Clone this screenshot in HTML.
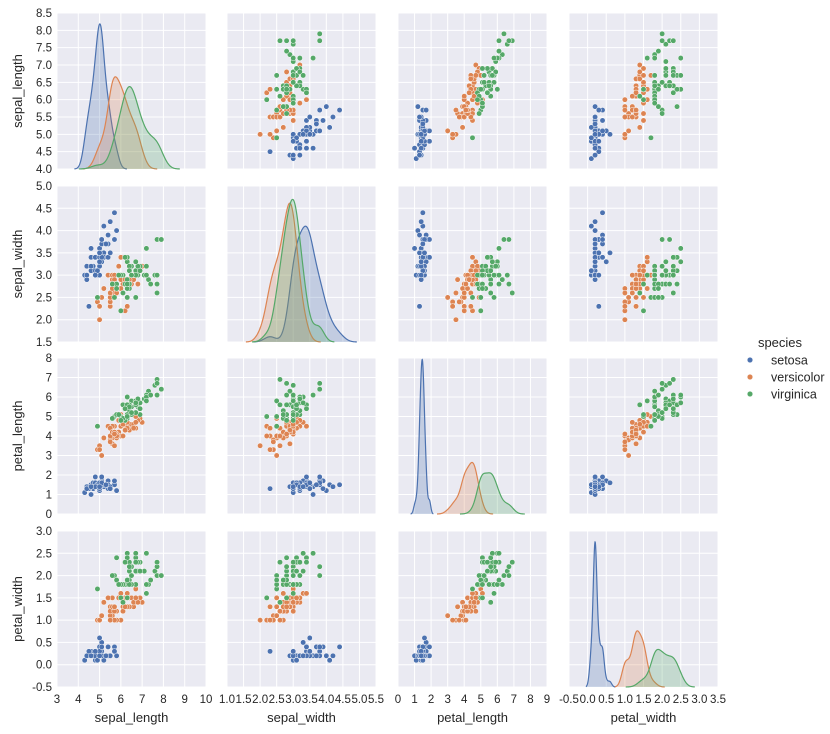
<!DOCTYPE html>
<html><head><meta charset="utf-8"><style>
html,body{margin:0;padding:0;background:#fff;}
svg{display:block;font-family:"Liberation Sans",Arial,sans-serif;}
</style></head><body>
<svg id="chart" width="830" height="734" viewBox="0 0 830 734" xmlns="http://www.w3.org/2000/svg"></svg>
<script>
const variables = ["sepal_length","sepal_width","petal_length","petal_width"];
const speciesNames = ["setosa","versicolor","virginica"];
const sepalLength = [5.1,4.9,4.7,4.6,5.0,5.4,4.6,5.0,4.4,4.9,5.4,4.8,4.8,4.3,5.8,5.7,5.4,5.1,5.7,5.1,5.4,5.1,4.6,5.1,4.8,5.0,5.0,5.2,5.2,4.7,4.8,5.4,5.2,5.5,4.9,5.0,5.5,4.9,4.4,5.1,5.0,4.5,4.4,5.0,5.1,4.8,5.1,4.6,5.3,5.0,
7.0,6.4,6.9,5.5,6.5,5.7,6.3,4.9,6.6,5.2,5.0,5.9,6.0,6.1,5.6,6.7,5.6,5.8,6.2,5.6,5.9,6.1,6.3,6.1,6.4,6.6,6.8,6.7,6.0,5.7,5.5,5.5,5.8,6.0,5.4,6.0,6.7,6.3,5.6,5.5,5.5,6.1,5.8,5.0,5.6,5.7,5.7,6.2,5.1,5.7,
6.3,5.8,7.1,6.3,6.5,7.6,4.9,7.3,6.7,7.2,6.5,6.4,6.8,5.7,5.8,6.4,6.5,7.7,7.7,6.0,6.9,5.6,7.7,6.3,6.7,7.2,6.2,6.1,6.4,7.2,7.4,7.9,6.4,6.3,6.1,7.7,6.3,6.4,6.0,6.9,6.7,6.9,5.8,6.8,6.7,6.7,6.3,6.5,6.2,5.9];
const sepalWidth = [3.5,3.0,3.2,3.1,3.6,3.9,3.4,3.4,2.9,3.1,3.7,3.4,3.0,3.0,4.0,4.4,3.9,3.5,3.8,3.8,3.4,3.7,3.6,3.3,3.4,3.0,3.4,3.5,3.4,3.2,3.1,3.4,4.1,4.2,3.1,3.2,3.5,3.1,3.0,3.4,3.5,2.3,3.2,3.5,3.8,3.0,3.8,3.2,3.7,3.3,
3.2,3.2,3.1,2.3,2.8,2.8,3.3,2.4,2.9,2.7,2.0,3.0,2.2,2.9,2.9,3.1,3.0,2.7,2.2,2.5,3.2,2.8,2.5,2.8,2.9,3.0,2.8,3.0,2.9,2.6,2.4,2.4,2.7,2.7,3.0,3.4,3.1,2.3,3.0,2.5,2.6,3.0,2.6,2.3,2.7,3.0,2.9,2.9,2.5,2.8,
3.3,2.7,3.0,2.9,3.0,3.0,2.5,2.9,2.5,3.6,3.2,2.7,3.0,2.5,2.8,3.2,3.0,3.8,2.6,2.2,3.2,2.8,2.8,2.7,3.3,3.2,2.8,3.0,2.8,3.0,2.8,3.8,2.8,2.8,2.6,3.0,3.4,3.1,3.0,3.1,3.1,3.1,2.7,3.2,3.3,3.0,2.5,3.0,3.4,3.0];
const petalLength = [1.4,1.4,1.3,1.5,1.4,1.7,1.4,1.5,1.4,1.5,1.5,1.6,1.4,1.1,1.2,1.5,1.3,1.4,1.7,1.5,1.7,1.5,1.0,1.7,1.9,1.6,1.6,1.5,1.4,1.6,1.6,1.5,1.5,1.4,1.5,1.2,1.3,1.5,1.3,1.5,1.3,1.3,1.3,1.6,1.9,1.4,1.6,1.4,1.5,1.4,
4.7,4.5,4.9,4.0,4.6,4.5,4.7,3.3,4.6,3.9,3.5,4.2,4.0,4.7,3.6,4.4,4.5,4.1,4.5,3.9,4.8,4.0,4.9,4.7,4.3,4.4,4.8,5.0,4.5,3.5,3.8,3.7,3.9,5.1,4.5,4.5,4.7,4.4,4.1,4.0,4.4,4.6,4.0,3.3,4.2,4.2,4.2,4.3,3.0,4.1,
6.0,5.1,5.9,5.6,5.8,6.6,4.5,6.3,5.8,6.1,5.1,5.3,5.5,5.0,5.1,5.3,5.5,6.7,6.9,5.0,5.7,4.9,6.7,4.9,5.7,6.0,4.8,4.9,5.6,5.8,6.1,6.4,5.6,5.1,5.6,6.1,5.6,5.5,4.8,5.4,5.6,5.1,5.1,5.9,5.7,5.2,5.0,5.2,5.4,5.1];
const petalWidth = [0.2,0.2,0.2,0.2,0.2,0.4,0.3,0.2,0.2,0.1,0.2,0.2,0.1,0.1,0.2,0.4,0.4,0.3,0.3,0.3,0.2,0.4,0.2,0.5,0.2,0.2,0.4,0.2,0.2,0.2,0.2,0.4,0.1,0.2,0.1,0.2,0.2,0.1,0.2,0.2,0.3,0.3,0.2,0.6,0.4,0.3,0.2,0.2,0.2,0.2,
1.4,1.5,1.5,1.3,1.5,1.3,1.6,1.0,1.3,1.4,1.0,1.5,1.0,1.4,1.3,1.4,1.5,1.0,1.5,1.1,1.8,1.3,1.5,1.2,1.3,1.4,1.4,1.7,1.5,1.0,1.1,1.0,1.2,1.6,1.5,1.6,1.5,1.3,1.3,1.3,1.2,1.4,1.2,1.0,1.3,1.2,1.3,1.3,1.1,1.3,
2.5,1.9,2.1,1.8,2.2,2.1,1.7,1.8,1.8,2.5,2.0,1.9,2.1,2.0,2.4,2.3,1.8,2.2,2.3,1.5,2.3,2.0,2.0,1.8,2.1,1.8,1.8,1.8,2.1,1.6,1.9,2.0,2.2,1.5,1.4,2.3,2.4,1.8,1.8,2.1,2.4,2.3,1.9,2.3,2.5,2.3,1.9,2.0,2.3,1.8];
const xTicksCol0 = [3,4,5,6,7,8,9,10];
const xTicksCol1 = [1.0,1.5,2.0,2.5,3.0,3.5,4.0,4.5,5.0,5.5];
const xTicksCol2 = [0,1,2,3,4,5,6,7,8,9];
const xTicksCol3 = [-0.5,0.0,0.5,1.0,1.5,2.0,2.5,3.0,3.5];
const yTicksRow0 = [4.0,4.5,5.0,5.5,6.0,6.5,7.0,7.5,8.0,8.5];
const yTicksRow1 = [1.5,2.0,2.5,3.0,3.5,4.0,4.5,5.0];
const yTicksRow2 = [0,1,2,3,4,5,6,7,8];
const yTicksRow3 = [-0.5,0.0,0.5,1.0,1.5,2.0,2.5,3.0];

const NS="http://www.w3.org/2000/svg";
const svg=document.getElementById('chart');
const cols=[57,227,398,569], rows=[13,186,358,531], W=149, H=156;
const colors=["#4c72b0","#dd8452","#55a868"];
const data=[sepalLength,sepalWidth,petalLength,petalWidth];
const xTicks=[xTicksCol0,xTicksCol1,xTicksCol2,xTicksCol3];
const yTicks=[yTicksRow0,yTicksRow1,yTicksRow2,yTicksRow3];
const diagFrac=[0.93,0.914,0.99,0.93];
function el(t,a,p){const e=document.createElementNS(NS,t);for(const k in a)e.setAttribute(k,a[k]);(p||svg).appendChild(e);return e;}
function fmt(v,ticks){const dec=ticks.some(t=>Math.abs(t-Math.round(t))>1e-9);return dec?v.toFixed(1):String(v);}
function xScale(j,v){const t=xTicks[j];return cols[j]+(v-t[0])/(t[t.length-1]-t[0])*W;}
function yScale(i,v){const t=yTicks[i];return rows[i]+H-(v-t[0])/(t[t.length-1]-t[0])*H;}
function speciesOf(k){return Math.floor(k/50);}

for(let i=0;i<4;i++){for(let j=0;j<4;j++){
  const g=el('g',{});
  
  
  const bg=el('rect',{x:cols[j],y:rows[i],width:W,height:H,fill:'#eaeaf2'},g);
  
  
  xTicks[j].forEach(t=>{const x=xScale(j,t);el('line',{x1:x,x2:x,y1:rows[i],y2:rows[i]+H,stroke:'#fff','stroke-width':1},g);});
  if(i!==j){yTicks[i].forEach(t=>{const y=yScale(i,t);el('line',{x1:cols[j],x2:cols[j]+W,y1:y,y2:y,stroke:'#fff','stroke-width':1},g);});}
  else{yTicks[i].forEach(t=>{const y=yScale(i,t);el('line',{x1:cols[j],x2:cols[j]+W,y1:y,y2:y,stroke:'#fff','stroke-width':1},g);});}
  if(i!==j){
    for(let k=0;k<150;k++){
      const c=el('circle',{cx:xScale(j,data[j][k]),cy:yScale(i,data[i][k]),r:2.7,fill:colors[speciesOf(k)],stroke:'#fff','stroke-width':0.5},g);
      
      
    }
  } else {
    // KDE per species
    const curves=[];let maxD=0;
    for(let s=0;s<3;s++){
      const vals=data[j].slice(s*50,s*50+50);
      const n=vals.length,mean=vals.reduce((a,b)=>a+b,0)/n;
      const sd=Math.sqrt(vals.reduce((a,b)=>a+(b-mean)*(b-mean),0)/(n-1));
      const bw=sd*Math.pow(n,-0.2);
      const lo=Math.min(...vals)-3*bw,hi=Math.max(...vals)+3*bw;
      const pts=[];
      for(let q=0;q<=200;q++){const x=lo+(hi-lo)*q/200;let d=0;vals.forEach(v=>{const z=(x-v)/bw;d+=Math.exp(-0.5*z*z);});d=d/(n*bw*Math.sqrt(2*Math.PI))/3;pts.push([x,d]);if(d>maxD)maxD=d;}
      curves.push(pts);
    }
    const base=rows[i]+H;
    curves.forEach((pts,s)=>{
      const py=d=>base-d/maxD*diagFrac[i]*H;
      let dstr='M'+xScale(j,pts[0][0])+','+base;
      pts.forEach(p=>{dstr+=' L'+xScale(j,p[0]).toFixed(2)+','+py(p[1]).toFixed(2);});
      const f=el('path',{d:dstr+' L'+xScale(j,pts[pts.length-1][0])+','+base+' Z',fill:colors[s],'fill-opacity':0.25,stroke:'none'},g);
      
      
      let l='';pts.forEach((p,q)=>{l+=(q?' L':'M')+xScale(j,p[0]).toFixed(2)+','+py(p[1]).toFixed(2);});
      const ln=el('path',{d:l,fill:'none',stroke:colors[s],'stroke-width':1.2},g);
      
      
    });
  }
}}
// y tick labels & titles
for(let i=0;i<4;i++){
  yTicks[i].forEach(t=>{const tx=el('text',{x:52,y:yScale(i,t)+4,'text-anchor':'end','font-size':11.5,fill:'#262626'});tx.textContent=fmt(t,yTicks[i]);
    
    });
  const cy=rows[i]+H/2;
  const yl=el('text',{x:0,y:0,transform:'translate(22,'+cy+') rotate(-90)','text-anchor':'middle','font-size':13,fill:'#262626'});
  yl.textContent=variables[i];
  
  
}
for(let j=0;j<4;j++){
  xTicks[j].forEach(t=>{const tx=el('text',{x:xScale(j,t),y:703,'text-anchor':'middle','font-size':11.5,fill:'#262626'});tx.textContent=fmt(t,xTicks[j]);
    
    });
  const xl=el('text',{x:cols[j]+W/2,y:722,'text-anchor':'middle','font-size':13,fill:'#262626'});
  xl.textContent=variables[j];
  
  
}
// legend
const lg=el('g',{});


const lt=el('text',{x:780,y:347,'text-anchor':'middle','font-size':13,fill:'#262626'},lg);
lt.textContent='species';


speciesNames.forEach((s,k)=>{
  const y=360+k*17;
  const d=el('circle',{cx:750,cy:y,r:2.8,fill:colors[k],stroke:'#fff','stroke-width':0.5},lg);
  
  
  const t=el('text',{x:771,y:y+4.5,'font-size':12.5,fill:'#262626'},lg);
  t.textContent=s;
  
  
});
</script>
</body></html>
